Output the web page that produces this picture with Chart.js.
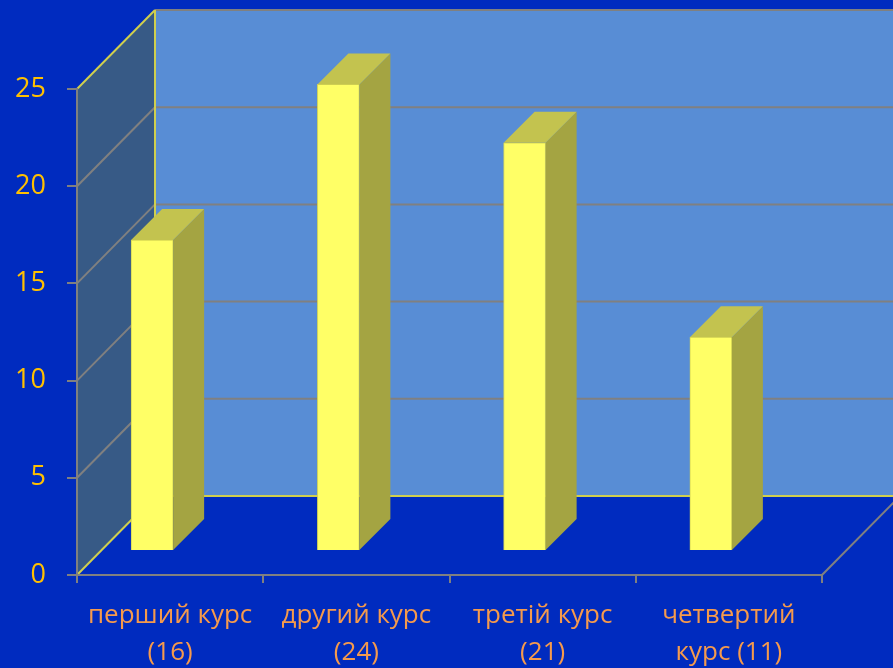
<!DOCTYPE html>
<html>
<head>
<meta charset="utf-8">
<script src="https://cdn.jsdelivr.net/npm/chart.js@4"></script>
<style>
  html, body { margin: 0; padding: 0; background: #002BBF; }
  canvas { display: block; }
</style>
</head>
<body>
<canvas id="c" width="893" height="668"></canvas>
<script>
// ---- data ----
const categories = [["перший курс", "(16)"], ["другий курс", "(24)"], ["третій курс", "(21)"], ["четвертий", "курс (11)"]];
const values = [16, 24, 21, 11];
const yMin = 0;
const yMax = 25;
const yStep = 5;

// ---- style constants ----
const BG = '#002BBF';
const BACK_WALL = '#588DD5';
const SIDE_WALL = '#375A86';
const GRID = '#808080';
const EDGE_YELLOW = '#CFCF4E';
const DEPTH_X = 78, DEPTH_Y = -79;     // wall depth
const FRONT_X = -18, FRONT_Y = -24;    // bar front-face offset
const BAR_DX = 31, BAR_DY = -31;       // bar depth
const BAR_FRONT = '#FFFF66', BAR_SIDE = '#A4A442', BAR_TOP = '#C3C34F', BAR_EDGE = '#D8D855';

const walls = {
  id: 'walls',
  beforeDraw(chart) {
    const ctx = chart.ctx;
    const y = chart.scales.y, x = chart.scales.x;
    const L = x.left, R = x.right;
    const W = chart.width;
    const top = y.getPixelForValue(yMax), bot = y.getPixelForValue(yMin);
    ctx.save();
    ctx.fillStyle = BG;
    ctx.fillRect(0, 0, W, chart.height);
    // back wall
    ctx.fillStyle = BACK_WALL;
    ctx.fillRect(L + DEPTH_X, top + DEPTH_Y, W - (L + DEPTH_X), bot - top);
    // side wall
    ctx.fillStyle = SIDE_WALL;
    ctx.beginPath();
    ctx.moveTo(L, bot); ctx.lineTo(L, top);
    ctx.lineTo(L + DEPTH_X, top + DEPTH_Y); ctx.lineTo(L + DEPTH_X, bot + DEPTH_Y);
    ctx.closePath(); ctx.fill();
    // grid lines
    ctx.lineWidth = 2;
    for (let v = yMin; v <= yMax; v += yStep) {
      const py = y.getPixelForValue(v);
      ctx.strokeStyle = (v === yMin || v === yMax) ? EDGE_YELLOW : GRID;
      ctx.beginPath();
      ctx.moveTo(L, py); ctx.lineTo(L + DEPTH_X, py + DEPTH_Y);
      ctx.stroke();
      ctx.strokeStyle = (v === yMin) ? EDGE_YELLOW : GRID;
      ctx.beginPath();
      ctx.moveTo(L + DEPTH_X, py + DEPTH_Y); ctx.lineTo(W, py + DEPTH_Y);
      ctx.stroke();
    }
    // back wall left edge
    ctx.strokeStyle = EDGE_YELLOW;
    ctx.beginPath();
    ctx.moveTo(L + DEPTH_X, top + DEPTH_Y); ctx.lineTo(L + DEPTH_X, bot + DEPTH_Y);
    ctx.stroke();
    // floor right edge
    ctx.strokeStyle = GRID;
    ctx.beginPath();
    ctx.moveTo(R, bot); ctx.lineTo(R + DEPTH_X, bot + DEPTH_Y);
    ctx.stroke();
    ctx.restore();
  },
  beforeDatasetsDraw(chart) {
    chart.ctx.save();
    chart.ctx.translate(FRONT_X, FRONT_Y);
  },
  afterDatasetsDraw(chart) {
    const ctx = chart.ctx;
    const meta = chart.getDatasetMeta(0);
    ctx.lineWidth = 1;
    ctx.strokeStyle = BAR_EDGE;
    meta.data.forEach(el => {
      const p = el.getProps(['x', 'y', 'base', 'width'], true);
      const l = p.x - p.width / 2, r = p.x + p.width / 2;
      // side face
      ctx.fillStyle = BAR_SIDE;
      ctx.beginPath();
      ctx.moveTo(r, p.base); ctx.lineTo(r, p.y);
      ctx.lineTo(r + BAR_DX, p.y + BAR_DY); ctx.lineTo(r + BAR_DX, p.base + BAR_DY);
      ctx.closePath(); ctx.fill();
      // top face
      ctx.fillStyle = BAR_TOP;
      ctx.beginPath();
      ctx.moveTo(l, p.y); ctx.lineTo(r, p.y);
      ctx.lineTo(r + BAR_DX, p.y + BAR_DY); ctx.lineTo(l + BAR_DX, p.y + BAR_DY);
      ctx.closePath(); ctx.fill();
    });
    ctx.restore();
  }
};

new Chart(document.getElementById('c'), {
  type: 'bar',
  data: {
    labels: categories,
    datasets: [{
      data: values,
      backgroundColor: BAR_FRONT,
      borderColor: BAR_EDGE,
      borderWidth: 1,
      barThickness: 42,
      clip: false
    }]
  },
  options: {
    responsive: false,
    animation: false,
    devicePixelRatio: 1,
    layout: { padding: { top: 89, right: 71, left: 0, bottom: 0 } },
    plugins: { legend: { display: false }, tooltip: { enabled: false } },
    scales: {
      y: {
        min: yMin, max: yMax,
        afterFit(s) { s.width = 77; },
        ticks: { stepSize: yStep, color: '#FFC000', padding: 21, font: { family: 'Open Sans', size: 27 } },
        grid: { drawOnChartArea: false, color: GRID, tickLength: 10, lineWidth: 2 },
        border: { display: true, color: GRID, width: 2 }
      },
      x: {
        afterFit(s) { s.height = 93; },
        ticks: { color: '#F59A4C', padding: 14, font: { family: 'Open Sans', size: 26, lineHeight: 1.42 } },
        grid: { drawOnChartArea: false, color: GRID, tickLength: 8, lineWidth: 2, offset: true },
        border: { display: true, color: GRID, width: 2 }
      }
    }
  },
  plugins: [walls]
});
</script>
</body>
</html>
